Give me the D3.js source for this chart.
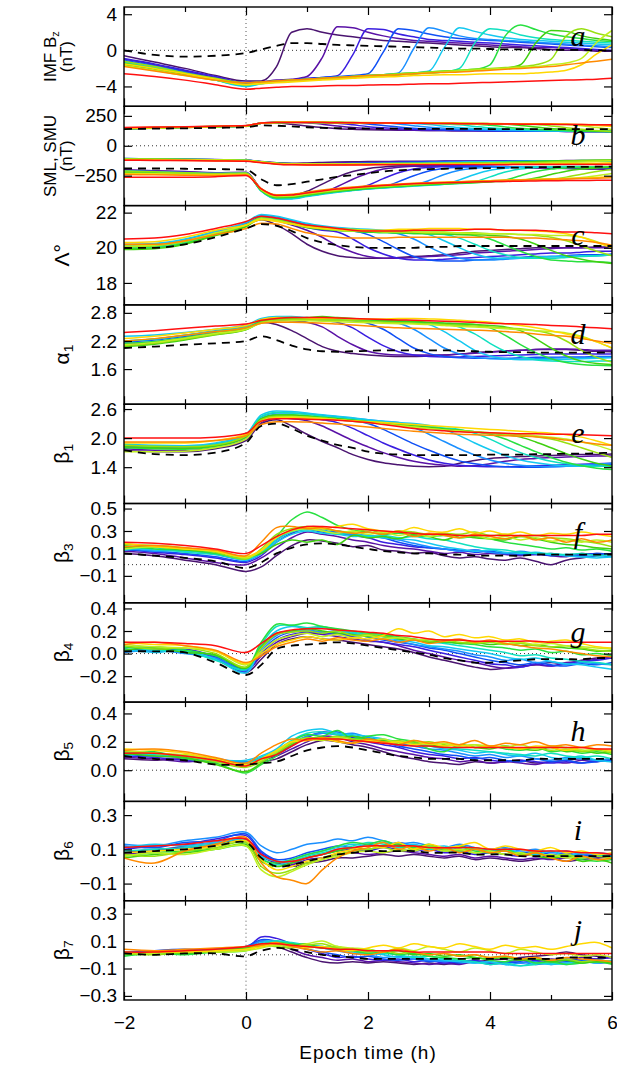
<!DOCTYPE html>
<html>
<head>
<meta charset="utf-8">
<script src="https://cdn.jsdelivr.net/npm/d3@7"></script>
<style>
body { margin: 0; background: #fff; }
text { font-family: "Liberation Sans", Arial, sans-serif; fill: #000; }
</style>
</head>
<body>
<script>
// epoch time grid (h)
var T = [-2,-1.5,-1,-0.5,0,0.25,0.5,0.75,1,1.25,1.5,1.75,2,2.25,2.5,2.75,3,3.25,3.5,3.75,4,4.25,4.5,4.75,5,5.25,5.5,5.75,6];

// one colour per event group (shortest southward interval -> longest)
var colors = ["#4a1470","#5a12a6","#3a1ee0","#1050f5","#1a8fff","#14c8f0","#10e0c0",
              "#28e040","#40d010","#98e010","#c0f020","#ffd800","#ff8a00","#ff1010"];

// ---- a: IMF Bz (nT)
var bzRef = [0.0,-0.5,-0.7,-0.6,-0.3, 0.1,0.5,0.8,0.8, 0.7,0.6,0.55,0.5, 0.45,0.4,0.35,0.3, 0.25,0.2,0.2,0.15, 0.1,0.1,0.1,0.05, 0.05,0.05,0.0,0.0];
var bz = [
  [-0.6,-1.3,-2.0,-2.8,-3.4, -3.4,-1.8,2.0,2.4, 2.0,1.7,1.5,1.3, 1.1,1.0,0.9,0.8, 0.7,0.6,0.5,0.4, 0.3,0.3,0.2,0.1, 0.0,0.0,-0.1,-0.1],
  [-1.0,-1.6,-2.3,-3.0,-3.6, -3.5,-3.3,-3.2,-2.9, -0.8,2.6,2.5,2.0, 1.6,1.3,1.1,1.0, 0.9,0.8,0.7,0.6, 0.5,0.4,0.3,0.3, 0.2,0.1,0.0,-0.1],
  [-0.9,-1.5,-2.2,-2.9,-3.6, -3.5,-3.4,-3.3,-3.1, -3.0,-2.8,-0.5,2.4, 2.3,1.8,1.5,1.2, 1.1,1.0,0.9,0.8, 0.7,0.6,0.5,0.4, 0.3,0.2,0.1,0.0],
  [-1.1,-1.7,-2.4,-3.1,-3.7, -3.6,-3.4,-3.3,-3.2, -3.0,-2.9,-2.8,-2.6, -0.2,2.4,2.2,1.8, 1.5,1.3,1.2,1.1, 1.0,0.9,0.8,0.7, 0.6,0.5,0.4,0.3],
  [-1.2,-1.8,-2.5,-3.2,-3.8, -3.6,-3.5,-3.3,-3.2, -3.1,-3.0,-2.9,-2.8, -2.7,-2.5,0.2,2.5, 2.1,1.6,1.3,1.2, 1.1,1.0,0.9,0.8, 0.7,0.6,0.5,0.4],
  [-1.3,-1.9,-2.6,-3.3,-4.0, -3.7,-3.5,-3.4,-3.3, -3.2,-3.0,-2.9,-2.8, -2.7,-2.6,-2.5,-2.3, 0.3,2.5,2.1,1.7, 1.4,1.2,1.1,1.0, 0.9,0.8,0.7,0.6],
  [-1.5,-2.0,-2.6,-3.3,-3.9, -3.7,-3.5,-3.4,-3.3, -3.2,-3.1,-3.0,-2.9, -2.8,-2.7,-2.6,-2.5, -2.4,-2.0,0.8,2.4, 2.2,1.7,1.4,1.2, 1.1,1.0,0.9,0.8],
  [-1.4,-2.0,-2.6,-3.2,-3.8, -3.6,-3.4,-3.3,-3.2, -3.1,-3.0,-2.9,-2.8, -2.7,-2.6,-2.5,-2.4, -2.3,-2.2,-2.1,-1.6, 1.6,2.8,2.3,1.8, 1.5,1.3,1.1,1.0],
  [-1.6,-2.1,-2.7,-3.3,-3.8, -3.6,-3.5,-3.4,-3.3, -3.2,-3.1,-3.0,-2.9, -2.8,-2.7,-2.6,-2.5, -2.4,-2.3,-2.2,-2.1, -2.0,-1.6,0.8,2.2, 2.1,1.6,1.3,1.1],
  [-1.2,-1.8,-2.5,-3.1,-3.6, -3.5,-3.4,-3.3,-3.2, -3.1,-3.0,-2.9,-2.8, -2.7,-2.6,-2.5,-2.4, -2.3,-2.2,-2.1,-2.0, -1.9,-1.8,-1.6,-1.0, 1.6,2.4,1.9,1.5],
  [-1.7,-2.2,-2.8,-3.3,-3.8, -3.6,-3.5,-3.4,-3.3, -3.2,-3.1,-3.0,-2.9, -2.8,-2.7,-2.6,-2.5, -2.4,-2.3,-2.2,-2.1, -2.0,-1.9,-1.8,-1.6, -1.4,-0.9,0.9,2.2],
  [-1.5,-2.0,-2.6,-3.2,-3.8, -3.7,-3.6,-3.5,-3.4, -3.3,-3.2,-3.1,-3.0, -2.95,-2.9,-2.8,-2.75, -2.7,-2.7,-2.65,-2.6, -2.6,-2.6,-2.5,-2.4, -2.2,-1.6,-0.4,0.6],
  [-1.8,-2.3,-2.8,-3.3,-3.6, -3.5,-3.4,-3.3,-3.2, -3.1,-3.0,-2.9,-2.8, -2.75,-2.7,-2.6,-2.5, -2.45,-2.4,-2.3,-2.2, -2.1,-2.0,-1.9,-1.8, -1.6,-1.4,-1.2,-1.0],
  [-2.6,-2.9,-3.3,-3.8,-4.3, -4.2,-4.1,-4.0,-4.0, -3.95,-3.9,-3.9,-3.85, -3.8,-3.8,-3.75,-3.7, -3.7,-3.65,-3.6,-3.55, -3.5,-3.45,-3.4,-3.35, -3.3,-3.25,-3.2,-3.1]
];

// ---- b: SMU (upper), middle band, SML (lower) (nT)
var smuRef = [140,143,146,150,155, 170,168,162,155, 150,147,145,144, 143,143,142,142, 141,141,141,140, 140,140,140,139, 139,139,139,138];
var smu = [
  [140,147,153,160,166, 188,190,180,165, 152,143,138,134, 132,130,129,128, 127,126,125,125, 124,123,122,121, 121,120,120,119],
  [145,150,155,162,168, 190,196,197,192, 180,165,152,143, 137,133,130,128, 127,126,125,124, 123,122,121,121, 120,120,119,118],
  [142,148,154,160,166, 189,195,197,197, 195,188,175,160, 150,142,136,132, 130,128,126,125, 124,123,122,121, 120,120,119,118],
  [146,151,156,161,167, 190,196,198,197, 196,195,192,183, 170,157,147,140, 135,131,129,127, 125,124,123,122, 121,120,119,118],
  [144,149,155,161,166, 188,194,196,196, 195,194,193,192, 190,182,168,155, 146,140,135,131, 129,127,125,124, 122,121,120,119],
  [143,148,154,160,166, 189,195,197,196, 195,194,193,192, 191,190,187,178, 164,152,144,138, 134,131,128,126, 124,122,121,120],
  [145,150,155,161,167, 190,195,197,196, 195,194,193,192, 191,190,189,188, 185,175,162,150, 142,136,132,128, 125,123,121,120],
  [141,147,153,159,165, 188,194,196,196, 195,194,193,192, 191,190,189,188, 187,186,183,172, 158,146,138,132, 127,123,120,118],
  [144,149,155,160,166, 189,195,197,197, 196,195,194,193, 192,191,190,189, 188,187,186,185, 181,170,156,144, 136,129,124,120],
  [142,148,153,159,165, 188,193,195,195, 194,193,192,191, 190,189,188,187, 186,185,184,183, 182,181,177,166, 151,139,128,120],
  [146,150,155,161,167, 189,194,196,196, 195,194,193,192, 191,190,189,188, 187,186,185,184, 183,182,181,180, 177,168,152,136],
  [148,152,157,162,168, 190,196,198,198, 197,196,195,194, 193,192,191,190, 189,188,187,186, 185,184,183,182, 180,176,170,162],
  [150,154,158,163,168, 191,196,197,197, 196,195,194,193, 192,191,190,189, 188,187,186,185, 184,183,182,181, 180,178,175,170],
  [152,156,160,164,169, 190,194,195,195, 194,193,192,191, 190,189,188,187, 186,185,184,183, 182,181,180,179, 178,177,176,175]
];
var smMid = [
  [-108,-110,-112,-116,-120, -132,-142,-145,-143, -140,-136,-134,-132, -131,-130,-130,-129, -128,-128,-127,-127, -126,-126,-125,-125, -124,-124,-123,-123],
  [-110,-112,-115,-118,-122, -135,-146,-150,-150, -148,-144,-140,-137, -135,-134,-133,-132, -131,-131,-130,-130, -129,-129,-128,-128, -127,-127,-126,-126],
  [-106,-109,-112,-115,-119, -133,-145,-150,-151, -151,-149,-146,-142, -139,-136,-134,-133, -132,-131,-131,-130, -130,-129,-129,-128, -128,-127,-127,-126],
  [-112,-114,-116,-119,-123, -136,-148,-152,-153, -153,-152,-150,-148, -145,-141,-138,-136, -134,-133,-132,-131, -131,-130,-130,-129, -129,-128,-128,-127],
  [-109,-111,-114,-117,-121, -134,-146,-151,-152, -152,-151,-151,-150, -149,-147,-143,-140, -137,-135,-134,-133, -132,-131,-130,-130, -129,-129,-128,-128],
  [-111,-113,-116,-120,-124, -137,-149,-153,-154, -154,-153,-153,-152, -152,-151,-150,-147, -143,-139,-136,-134, -133,-132,-131,-130, -130,-129,-129,-128],
  [-107,-110,-113,-116,-120, -133,-145,-149,-150, -150,-150,-149,-149, -148,-148,-147,-146, -145,-142,-138,-135, -133,-131,-130,-129, -128,-127,-126,-125],
  [-113,-115,-118,-121,-125, -138,-150,-154,-155, -155,-154,-154,-153, -153,-152,-152,-151, -150,-149,-147,-143, -138,-134,-131,-128, -126,-124,-122,-120],
  [-110,-112,-115,-118,-122, -135,-147,-151,-152, -152,-151,-151,-150, -150,-149,-149,-148, -148,-147,-146,-145, -142,-138,-133,-129, -126,-123,-121,-119],
  [-108,-111,-114,-117,-121, -134,-146,-150,-151, -151,-151,-150,-150, -149,-149,-148,-148, -147,-147,-146,-146, -145,-143,-140,-135, -130,-126,-123,-120],
  [-114,-116,-118,-121,-124, -136,-148,-152,-153, -153,-152,-152,-151, -151,-150,-150,-149, -149,-148,-148,-147, -147,-146,-145,-143, -140,-135,-130,-126],
  [-116,-118,-120,-123,-126, -138,-150,-155,-156, -156,-156,-155,-155, -155,-154,-154,-154, -153,-153,-153,-152, -152,-152,-151,-151, -150,-148,-145,-142],
  [-118,-120,-122,-125,-128, -140,-152,-157,-158, -158,-158,-158,-157, -157,-157,-157,-156, -156,-156,-156,-155, -155,-155,-155,-154, -154,-154,-153,-153],
  [-120,-122,-124,-127,-130, -142,-154,-159,-160, -160,-160,-160,-160, -159,-159,-159,-159, -158,-158,-158,-158, -158,-157,-157,-157, -157,-157,-156,-156]
];
var smlRef = [-190,-190,-192,-195,-200, -280,-330,-320,-300, -280,-260,-245,-230, -215,-205,-200,-195, -192,-190,-188,-186, -184,-182,-180,-178, -177,-176,-175,-174];
var sml = [
  [-205,-212,-220,-228,-225, -360,-420,-415,-380, -320,-260,-215,-190, -178,-170,-168,-168, -170,-172,-175,-178, -180,-182,-185,-188, -190,-192,-195,-198],
  [-200,-208,-216,-225,-222, -365,-425,-425,-410, -390,-340,-280,-230, -195,-180,-172,-168, -168,-170,-172,-175, -178,-180,-183,-186, -188,-190,-192,-195],
  [-210,-218,-225,-232,-228, -370,-430,-428,-410, -392,-378,-365,-330, -275,-225,-195,-180, -174,-170,-170,-172, -174,-176,-178,-180, -182,-184,-186,-188],
  [-215,-222,-230,-236,-232, -372,-432,-430,-412, -395,-380,-368,-358, -345,-300,-250,-210, -190,-180,-175,-174, -175,-176,-177,-178, -179,-180,-181,-182],
  [-208,-216,-224,-230,-226, -375,-440,-440,-420, -400,-385,-372,-360, -350,-342,-330,-290, -240,-205,-188,-180, -176,-175,-176,-177, -178,-179,-180,-180],
  [-220,-226,-232,-238,-234, -380,-445,-445,-425, -405,-388,-374,-362, -352,-344,-337,-330, -322,-285,-240,-205, -188,-180,-176,-175, -176,-177,-178,-178],
  [-212,-220,-228,-234,-230, -378,-440,-438,-420, -400,-385,-372,-360, -350,-342,-335,-328, -322,-316,-300,-260, -220,-195,-182,-176, -174,-174,-175,-176],
  [-218,-224,-230,-236,-232, -375,-436,-432,-415, -398,-382,-370,-358, -348,-340,-333,-326, -320,-314,-309,-300, -285,-250,-215,-195, -185,-180,-178,-176],
  [-225,-230,-236,-240,-236, -372,-430,-428,-410, -392,-378,-366,-355, -345,-337,-330,-323, -317,-311,-306,-301, -297,-290,-270,-240, -212,-195,-185,-180],
  [-210,-218,-226,-232,-228, -368,-425,-422,-405, -388,-373,-360,-349, -340,-332,-325,-318, -312,-306,-301,-296, -292,-288,-284,-278, -262,-238,-215,-198],
  [-230,-234,-238,-242,-238, -365,-420,-418,-400, -383,-368,-355,-345, -336,-328,-321,-314, -308,-302,-297,-292, -288,-284,-280,-276, -272,-265,-250,-232],
  [-235,-238,-242,-245,-240, -360,-415,-410,-392, -375,-360,-348,-338, -330,-322,-315,-310, -305,-300,-296,-292, -288,-284,-281,-278, -275,-270,-265,-258],
  [-240,-243,-246,-248,-243, -358,-410,-405,-388, -370,-356,-345,-335, -327,-320,-314,-309, -304,-300,-296,-292, -289,-286,-283,-280, -277,-274,-271,-268],
  [-262,-263,-262,-258,-248, -360,-415,-412,-395, -378,-362,-350,-340, -332,-325,-318,-313, -309,-306,-303,-300, -298,-296,-294,-292, -291,-290,-289,-288]
];

// ---- c: Lambda (deg)
var lamRef = [20.0,20.0,20.2,20.6,21.1, 21.35,21.25,20.95,20.55, 20.3,20.15,20.05,20.0, 20.0,20.0,20.0,20.05, 20.05,20.1,20.1,20.1, 20.1,20.1,20.1,20.1, 20.1,20.1,20.1,20.1];
var lam = [
  [20.0,20.05,20.3,20.8,21.3, 21.6,21.3,20.8,20.2, 19.8,19.55,19.45,19.4, 19.4,19.45,19.5,19.55, 19.6,19.7,19.8,19.85, 19.9,19.95,20.0,20.0, 20.0,20.0,20.05,20.05],
  [20.1,20.1,20.3,20.8,21.3, 21.7,21.55,21.3,21.0, 20.6,20.1,19.75,19.5, 19.4,19.4,19.45,19.5, 19.55,19.6,19.7,19.75, 19.8,19.85,19.9,19.95, 20.0,20.0,20.0,20.0],
  [20.0,20.05,20.3,20.8,21.3, 21.7,21.6,21.35,21.15, 21.0,20.9,20.5,20.0, 19.65,19.4,19.3,19.3, 19.35,19.4,19.45,19.5, 19.55,19.6,19.65,19.7, 19.7,19.75,19.8,19.8],
  [20.05,20.1,20.35,20.85,21.35, 21.75,21.65,21.45,21.25, 21.1,21.0,20.95,20.75, 20.35,19.9,19.5,19.3, 19.25,19.25,19.3,19.35, 19.4,19.45,19.5,19.5, 19.55,19.6,19.6,19.65],
  [20.15,20.2,20.45,20.9,21.4, 21.85,21.75,21.55,21.35, 21.2,21.1,21.0,20.95, 20.9,20.8,20.5,20.05, 19.65,19.4,19.3,19.3, 19.35,19.4,19.45,19.5, 19.5,19.55,19.55,19.6],
  [20.2,20.25,20.5,20.95,21.45, 21.9,21.8,21.6,21.4, 21.25,21.15,21.1,21.05, 21.0,20.95,20.9,20.75, 20.4,20.0,19.65,19.45, 19.4,19.4,19.45,19.5, 19.5,19.55,19.55,19.6],
  [20.0,20.05,20.3,20.8,21.3, 21.7,21.6,21.4,21.2, 21.1,21.0,20.95,20.9, 20.9,20.85,20.85,20.8, 20.75,20.55,20.2,19.85, 19.6,19.45,19.4,19.4, 19.45,19.5,19.55,19.6],
  [19.95,20.0,20.25,20.75,21.25, 21.7,21.6,21.4,21.2, 21.1,21.0,20.95,20.9, 20.85,20.85,20.8,20.8, 20.8,20.75,20.7,20.5, 20.15,19.8,19.5,19.3, 19.25,19.2,19.2,19.15],
  [19.9,19.95,20.2,20.7,21.2, 21.65,21.55,21.35,21.15, 21.05,21.0,20.95,20.9, 20.9,20.85,20.85,20.8, 20.8,20.75,20.75,20.7, 20.65,20.5,20.2,19.85, 19.55,19.35,19.2,19.1],
  [20.05,20.1,20.35,20.8,21.3, 21.7,21.6,21.4,21.25, 21.15,21.1,21.05,21.0, 20.95,20.95,20.9,20.9, 20.9,20.85,20.85,20.8, 20.8,20.75,20.7,20.6, 20.4,20.1,19.8,19.55],
  [20.1,20.15,20.4,20.85,21.3, 21.65,21.55,21.35,21.2, 21.1,21.0,20.95,20.95, 20.9,20.9,20.9,20.85, 20.85,20.85,20.8,20.8, 20.8,20.75,20.75,20.7, 20.7,20.6,20.35,20.0],
  [20.3,20.35,20.6,21.0,21.3, 21.6,21.5,21.35,21.2, 21.1,21.05,21.0,21.0, 21.0,21.05,21.05,21.1, 21.1,21.1,21.05,21.05, 21.0,21.0,20.95,20.9, 20.8,20.6,20.3,20.0],
  [20.2,20.2,20.4,20.75,21.1, 21.4,21.35,21.1,20.85, 20.7,20.6,20.55,20.55, 20.55,20.6,20.6,20.6, 20.6,20.6,20.6,20.6, 20.6,20.55,20.55,20.5, 20.45,20.4,20.3,20.15],
  [20.5,20.55,20.75,21.1,21.5, 21.8,21.7,21.5,21.3, 21.2,21.1,21.0,20.95, 20.95,20.95,21.0,21.0, 21.0,21.0,21.05,21.05, 21.0,21.0,21.0,20.95, 20.9,20.9,20.85,20.8]
];

// ---- d: alpha1
var a1Ref = [2.05,2.08,2.12,2.15,2.2, 2.3,2.22,2.1,2.02, 1.98,1.97,1.98,1.99, 2.0,2.0,2.0,2.0, 2.0,1.99,1.98,1.97, 1.96,1.96,1.95,1.95, 1.95,1.95,1.95,1.95];
var a1 = [
  [2.1,2.15,2.25,2.35,2.45, 2.6,2.55,2.42,2.25, 2.08,1.98,1.93,1.9, 1.88,1.87,1.87,1.88, 1.9,1.92,1.95,1.97, 1.99,2.0,2.02,2.02, 2.02,2.0,1.98,1.97],
  [2.15,2.18,2.27,2.37,2.47, 2.62,2.65,2.63,2.6, 2.5,2.3,2.12,1.98, 1.92,1.9,1.9,1.9, 1.9,1.92,1.94,1.96, 1.98,2.0,2.02,2.03, 2.03,2.02,2.0,2.0],
  [2.12,2.16,2.25,2.36,2.46, 2.63,2.67,2.67,2.66, 2.64,2.6,2.48,2.28, 2.1,1.97,1.9,1.87, 1.86,1.86,1.87,1.88, 1.89,1.9,1.91,1.92, 1.92,1.92,1.92,1.92],
  [2.18,2.22,2.3,2.4,2.5, 2.66,2.7,2.7,2.68, 2.66,2.65,2.63,2.58, 2.45,2.25,2.05,1.93, 1.87,1.84,1.83,1.83, 1.83,1.84,1.85,1.85, 1.86,1.86,1.87,1.87],
  [2.2,2.24,2.32,2.42,2.52, 2.66,2.7,2.7,2.69, 2.67,2.66,2.65,2.64, 2.62,2.58,2.45,2.25, 2.05,1.92,1.85,1.82, 1.81,1.81,1.82,1.83, 1.84,1.84,1.85,1.85],
  [2.3,2.33,2.38,2.45,2.54, 2.68,2.72,2.72,2.7, 2.68,2.67,2.66,2.65, 2.64,2.63,2.61,2.55, 2.4,2.2,2.0,1.88, 1.82,1.8,1.8,1.8, 1.81,1.82,1.83,1.84],
  [2.2,2.24,2.32,2.41,2.5, 2.64,2.68,2.68,2.67, 2.66,2.65,2.64,2.63, 2.62,2.61,2.6,2.59, 2.57,2.5,2.35,2.15, 1.98,1.87,1.8,1.77, 1.76,1.76,1.77,1.78],
  [2.15,2.19,2.27,2.37,2.47, 2.62,2.67,2.68,2.67, 2.66,2.65,2.64,2.63, 2.62,2.61,2.6,2.59, 2.58,2.57,2.55,2.48, 2.32,2.12,1.95,1.82, 1.74,1.7,1.68,1.67],
  [2.08,2.13,2.22,2.33,2.44, 2.6,2.66,2.68,2.7, 2.72,2.7,2.68,2.66, 2.64,2.63,2.62,2.6, 2.58,2.56,2.55,2.53, 2.5,2.42,2.25,2.05, 1.88,1.77,1.72,1.7],
  [2.1,2.15,2.24,2.34,2.45, 2.6,2.65,2.66,2.66, 2.65,2.64,2.63,2.62, 2.6,2.59,2.58,2.56, 2.55,2.53,2.52,2.5, 2.48,2.46,2.42,2.35, 2.2,2.0,1.85,1.75],
  [2.12,2.17,2.26,2.36,2.45, 2.58,2.62,2.63,2.63, 2.62,2.61,2.6,2.59, 2.58,2.57,2.56,2.55, 2.53,2.51,2.5,2.48, 2.46,2.44,2.42,2.4, 2.37,2.3,2.18,2.05],
  [2.25,2.3,2.37,2.45,2.53, 2.66,2.7,2.7,2.69, 2.68,2.68,2.67,2.67, 2.67,2.68,2.68,2.67, 2.66,2.64,2.62,2.6, 2.57,2.53,2.48,2.42, 2.35,2.28,2.18,2.05],
  [2.2,2.25,2.32,2.4,2.48, 2.58,2.6,2.6,2.59, 2.58,2.56,2.54,2.52, 2.5,2.48,2.47,2.46, 2.45,2.44,2.43,2.42, 2.4,2.38,2.35,2.32, 2.3,2.25,2.2,2.15],
  [2.38,2.42,2.47,2.52,2.56, 2.64,2.68,2.7,2.7, 2.7,2.69,2.68,2.67, 2.66,2.65,2.64,2.63, 2.62,2.61,2.6,2.58, 2.57,2.56,2.55,2.53, 2.52,2.5,2.48,2.46]
];

// ---- e: beta1
var b1Ref = [1.75,1.67,1.65,1.7,1.9, 2.25,2.3,2.2,2.05, 1.95,1.86,1.8,1.72, 1.68,1.66,1.65,1.65, 1.65,1.65,1.65,1.66, 1.66,1.66,1.67,1.67, 1.68,1.68,1.69,1.7];
var b1 = [
  [1.75,1.72,1.72,1.78,1.95, 2.3,2.38,2.25,2.08, 1.93,1.8,1.66,1.56, 1.49,1.45,1.42,1.41, 1.42,1.48,1.54,1.58, 1.6,1.62,1.63,1.64, 1.65,1.66,1.66,1.67],
  [1.78,1.75,1.74,1.8,1.98, 2.32,2.42,2.4,2.36, 2.25,2.1,1.95,1.82, 1.7,1.6,1.52,1.47, 1.44,1.42,1.43,1.47, 1.52,1.56,1.58,1.6, 1.61,1.62,1.63,1.63],
  [1.82,1.8,1.79,1.84,2.02, 2.38,2.46,2.45,2.42, 2.38,2.32,2.2,2.05, 1.9,1.77,1.65,1.55, 1.48,1.44,1.42,1.41, 1.41,1.42,1.43,1.44, 1.45,1.46,1.47,1.48],
  [1.84,1.82,1.8,1.86,2.04, 2.4,2.48,2.47,2.45, 2.42,2.4,2.37,2.3, 2.18,2.03,1.88,1.75, 1.63,1.53,1.47,1.43, 1.41,1.4,1.4,1.41, 1.42,1.43,1.44,1.45],
  [1.86,1.84,1.83,1.88,2.06, 2.44,2.52,2.52,2.5, 2.47,2.44,2.41,2.38, 2.35,2.32,2.22,2.08, 1.93,1.78,1.65,1.55, 1.48,1.44,1.42,1.41, 1.42,1.44,1.46,1.48],
  [1.88,1.85,1.84,1.9,2.08, 2.48,2.56,2.55,2.52, 2.48,2.45,2.42,2.38, 2.35,2.32,2.3,2.26, 2.18,2.05,1.9,1.76, 1.64,1.55,1.49,1.45, 1.43,1.42,1.42,1.43],
  [1.86,1.83,1.82,1.87,2.05, 2.45,2.53,2.52,2.49, 2.45,2.42,2.39,2.36, 2.33,2.3,2.27,2.24, 2.21,2.18,2.1,1.98, 1.83,1.7,1.6,1.52, 1.47,1.44,1.42,1.42],
  [1.8,1.78,1.77,1.83,2.02, 2.4,2.48,2.48,2.46, 2.43,2.4,2.37,2.34, 2.31,2.28,2.25,2.22, 2.19,2.16,2.13,2.08, 1.98,1.85,1.72,1.6, 1.5,1.43,1.38,1.35],
  [1.82,1.8,1.79,1.84,2.03, 2.4,2.47,2.47,2.45, 2.42,2.4,2.37,2.34, 2.31,2.28,2.25,2.22, 2.19,2.16,2.13,2.1, 2.07,2.02,1.92,1.8, 1.68,1.57,1.48,1.42],
  [1.85,1.83,1.82,1.86,2.04, 2.38,2.45,2.45,2.43, 2.41,2.38,2.35,2.32, 2.29,2.26,2.23,2.2, 2.17,2.14,2.12,2.1, 2.08,2.06,2.03,1.98, 1.9,1.8,1.7,1.6],
  [1.72,1.72,1.73,1.8,1.98, 2.35,2.43,2.44,2.43, 2.41,2.38,2.35,2.32, 2.29,2.26,2.23,2.2, 2.17,2.15,2.13,2.11, 2.09,2.07,2.05,2.02, 1.98,1.92,1.85,1.75],
  [1.9,1.9,1.9,1.95,2.08, 2.35,2.42,2.42,2.41, 2.4,2.38,2.36,2.34, 2.32,2.3,2.28,2.26, 2.24,2.22,2.2,2.18, 2.16,2.14,2.12,2.1, 2.07,2.02,1.94,1.85],
  [1.92,1.92,1.92,1.95,2.05, 2.28,2.34,2.34,2.33, 2.31,2.29,2.26,2.23, 2.2,2.17,2.14,2.12, 2.1,2.08,2.07,2.06, 2.05,2.04,2.03,2.0, 1.96,1.92,1.88,1.85],
  [2.0,2.0,2.0,2.02,2.1, 2.35,2.4,2.4,2.39, 2.38,2.37,2.35,2.32, 2.28,2.24,2.2,2.17, 2.15,2.13,2.12,2.11, 2.1,2.09,2.09,2.08, 2.08,2.07,2.06,2.05]
];

// ---- f: beta3
var b3Ref = [0.1,0.08,0.06,0.03,-0.03, 0.02,0.1,0.15,0.18, 0.19,0.18,0.16,0.14, 0.12,0.11,0.1,0.1, 0.09,0.09,0.08,0.08, 0.08,0.08,0.09,0.09, 0.09,0.09,0.09,0.09];
var b3 = [
  [0.1,0.08,0.04,0.0,-0.06, -0.02,0.08,0.17,0.22, 0.21,0.19,0.16,0.17, 0.13,0.12,0.1,0.11, 0.08,0.06,0.07,0.05, 0.04,0.06,0.03,0.0, 0.04,0.06,0.08,0.1],
  [0.12,0.1,0.06,0.02,0.0, 0.06,0.15,0.24,0.29, 0.27,0.25,0.22,0.2, 0.17,0.15,0.14,0.12, 0.1,0.11,0.09,0.1, 0.09,0.08,0.09,0.08, 0.07,0.1,0.09,0.1],
  [0.14,0.11,0.09,0.06,0.02, 0.08,0.2,0.28,0.32, 0.3,0.28,0.26,0.24, 0.2,0.18,0.16,0.15, 0.14,0.12,0.13,0.11, 0.1,0.11,0.09,0.1, 0.08,0.09,0.1,0.09],
  [0.13,0.12,0.1,0.07,0.03, 0.1,0.22,0.3,0.32, 0.29,0.3,0.27,0.26, 0.24,0.2,0.17,0.15, 0.14,0.13,0.11,0.12, 0.1,0.09,0.1,0.08, 0.09,0.08,0.1,0.09],
  [0.15,0.12,0.13,0.09,0.05, 0.12,0.24,0.3,0.33, 0.31,0.28,0.27,0.25, 0.24,0.22,0.19,0.16, 0.14,0.12,0.13,0.11, 0.1,0.12,0.1,0.09, 0.08,0.07,0.08,0.07],
  [0.16,0.13,0.12,0.1,0.04, 0.1,0.2,0.27,0.3, 0.28,0.27,0.25,0.26, 0.24,0.23,0.22,0.19, 0.16,0.14,0.12,0.13, 0.11,0.1,0.11,0.09, 0.08,0.07,0.06,0.07],
  [0.13,0.15,0.11,0.09,0.05, 0.11,0.22,0.29,0.31, 0.3,0.27,0.28,0.25, 0.26,0.24,0.25,0.23, 0.22,0.19,0.16,0.14, 0.13,0.11,0.1,0.1, 0.09,0.1,0.08,0.09],
  [0.17,0.14,0.13,0.1,0.06, 0.12,0.25,0.4,0.47, 0.42,0.35,0.31,0.29, 0.27,0.28,0.26,0.25, 0.26,0.24,0.25,0.23, 0.2,0.18,0.16,0.14, 0.15,0.13,0.14,0.12],
  [0.15,0.16,0.13,0.12,0.07, 0.1,0.18,0.22,0.2, 0.22,0.18,0.26,0.24, 0.25,0.23,0.27,0.25, 0.22,0.26,0.24,0.23, 0.22,0.25,0.23,0.2, 0.18,0.17,0.15,0.14],
  [0.18,0.17,0.15,0.11,0.05, 0.14,0.27,0.32,0.34, 0.32,0.3,0.29,0.31, 0.28,0.3,0.29,0.27, 0.28,0.27,0.29,0.26, 0.27,0.25,0.26,0.24, 0.23,0.21,0.19,0.16],
  [0.14,0.16,0.14,0.12,0.06, 0.12,0.24,0.3,0.32, 0.3,0.28,0.3,0.27, 0.29,0.26,0.28,0.25, 0.27,0.24,0.26,0.23, 0.25,0.22,0.24,0.21, 0.22,0.2,0.22,0.2],
  [0.19,0.16,0.14,0.12,0.07, 0.13,0.24,0.31,0.33, 0.32,0.34,0.36,0.32, 0.3,0.29,0.33,0.3, 0.29,0.32,0.28,0.3, 0.27,0.29,0.26,0.28, 0.27,0.29,0.27,0.25],
  [0.16,0.17,0.15,0.13,0.08, 0.2,0.33,0.34,0.32, 0.33,0.3,0.28,0.29, 0.27,0.3,0.25,0.28, 0.26,0.24,0.27,0.25, 0.23,0.26,0.22,0.24, 0.2,0.23,0.2,0.22],
  [0.2,0.19,0.17,0.14,0.1, 0.17,0.25,0.31,0.34, 0.34,0.33,0.32,0.31, 0.3,0.29,0.28,0.27, 0.27,0.26,0.26,0.26, 0.26,0.26,0.26,0.26, 0.26,0.26,0.27,0.27]
];

// ---- g: beta4
var b4Ref = [0.02,0.02,0.01,-0.08,-0.19, -0.1,0.04,0.07,0.08, 0.09,0.1,0.09,0.07, 0.05,0.03,0.01,-0.01, -0.04,-0.06,-0.08,-0.08, -0.07,-0.06,-0.05,-0.05, -0.05,-0.05,-0.04,-0.04];
var b4 = [
  [0.02,0.04,0.01,-0.05,-0.17, -0.05,0.08,0.13,0.15, 0.13,0.12,0.1,0.08, 0.06,0.04,0.01,-0.03, -0.06,-0.09,-0.12,-0.14, -0.13,-0.11,-0.1,-0.08, -0.09,-0.06,-0.04,-0.02],
  [0.03,0.02,0.03,-0.04,-0.15, -0.02,0.1,0.15,0.18, 0.17,0.15,0.13,0.11, 0.1,0.07,0.03,0.0, -0.03,-0.06,-0.08,-0.11, -0.13,-0.12,-0.1,-0.11, -0.08,-0.07,-0.05,-0.03],
  [0.04,0.02,0.04,-0.03,-0.16, 0.0,0.12,0.17,0.19, 0.18,0.17,0.15,0.12, 0.1,0.08,0.06,0.03, 0.0,-0.03,-0.06,-0.09, -0.1,-0.12,-0.09,-0.11, -0.09,-0.07,-0.06,-0.04],
  [0.02,0.05,0.02,-0.02,-0.14, 0.02,0.14,0.19,0.2, 0.19,0.18,0.16,0.15, 0.12,0.1,0.08,0.05, 0.03,0.0,-0.03,-0.06, -0.08,-0.1,-0.08,-0.1, -0.11,-0.09,-0.1,-0.08],
  [0.01,0.03,0.0,-0.04,-0.15, 0.04,0.16,0.2,0.21, 0.19,0.2,0.17,0.15, 0.13,0.11,0.08,0.06, 0.04,0.02,-0.01,-0.03, -0.06,-0.05,-0.08,-0.07, -0.1,-0.08,-0.09,-0.1],
  [0.04,0.01,0.03,-0.05,-0.17, 0.06,0.2,0.24,0.22, 0.23,0.2,0.18,0.16, 0.15,0.12,0.1,0.07, 0.06,0.04,0.02,0.0, -0.03,-0.05,-0.04,-0.07, -0.09,-0.1,-0.12,-0.14],
  [0.06,0.03,0.02,-0.06,-0.14, 0.08,0.24,0.25,0.23, 0.24,0.21,0.19,0.17, 0.16,0.14,0.12,0.1, 0.09,0.07,0.05,0.03, 0.01,-0.02,-0.01,-0.04, -0.05,-0.07,-0.08,-0.1],
  [0.05,0.06,0.03,-0.02,-0.12, 0.1,0.26,0.25,0.27, 0.24,0.22,0.2,0.18, 0.17,0.15,0.13,0.11, 0.1,0.09,0.08,0.06, 0.05,0.03,0.04,0.01, 0.02,-0.01,0.0,-0.02],
  [0.03,0.05,0.01,-0.01,-0.13, 0.06,0.18,0.2,0.22, 0.2,0.18,0.17,0.15, 0.16,0.13,0.12,0.1, 0.11,0.09,0.1,0.08, 0.09,0.07,0.08,0.06, 0.05,0.04,0.02,0.03],
  [0.07,0.04,0.05,0.0,-0.12, 0.05,0.17,0.19,0.2, 0.18,0.2,0.16,0.17, 0.15,0.14,0.13,0.11, 0.12,0.1,0.09,0.1, 0.08,0.09,0.07,0.06, 0.07,0.05,0.03,0.02],
  [0.08,0.06,0.05,0.02,-0.1, 0.02,0.12,0.16,0.18, 0.15,0.17,0.14,0.16, 0.13,0.14,0.12,0.13, 0.11,0.12,0.1,0.11, 0.09,0.1,0.08,0.09, 0.07,0.06,0.05,0.04],
  [0.1,0.08,0.07,0.02,-0.09, 0.0,0.08,0.12,0.15, 0.13,0.12,0.14,0.13, 0.16,0.22,0.18,0.2, 0.15,0.17,0.14,0.15, 0.12,0.13,0.1,0.11, 0.12,0.09,0.06,0.05],
  [0.08,0.1,0.07,0.03,-0.08, -0.02,0.06,0.1,0.13, 0.11,0.14,0.12,0.11, 0.13,0.1,0.12,0.09, 0.11,0.13,0.1,0.12, 0.09,0.07,0.05,0.04, 0.02,0.0,-0.02,-0.03],
  [0.1,0.1,0.09,0.07,0.01, 0.09,0.18,0.21,0.22, 0.22,0.21,0.2,0.19, 0.18,0.16,0.15,0.13, 0.12,0.12,0.11,0.11, 0.11,0.11,0.11,0.1, 0.1,0.1,0.1,0.1]
];

// ---- h: beta5
var b5Ref = [0.1,0.08,0.07,0.04,0.04, 0.05,0.06,0.1,0.14, 0.16,0.17,0.16,0.14, 0.12,0.1,0.09,0.08, 0.08,0.08,0.07,0.07, 0.07,0.07,0.08,0.08, 0.08,0.08,0.08,0.08];
var b5 = [
  [0.08,0.07,0.08,0.06,0.05, 0.06,0.08,0.13,0.18, 0.21,0.2,0.18,0.16, 0.13,0.1,0.08,0.06, 0.05,0.04,0.06,0.05, 0.06,0.07,0.05,0.06, 0.07,0.08,0.07,0.08],
  [0.09,0.08,0.06,0.07,0.05, 0.07,0.1,0.15,0.2, 0.24,0.23,0.2,0.18, 0.15,0.13,0.11,0.09, 0.08,0.06,0.07,0.05, 0.06,0.05,0.04,0.06, 0.05,0.07,0.06,0.08],
  [0.1,0.09,0.07,0.06,0.04, 0.08,0.12,0.18,0.23, 0.27,0.25,0.23,0.2, 0.18,0.16,0.13,0.11, 0.1,0.08,0.09,0.07, 0.06,0.07,0.06,0.05, 0.06,0.05,0.07,0.06],
  [0.11,0.1,0.09,0.07,0.05, 0.08,0.11,0.17,0.24, 0.26,0.27,0.24,0.22, 0.2,0.17,0.15,0.13, 0.11,0.1,0.08,0.09, 0.07,0.06,0.08,0.06, 0.07,0.05,0.06,0.07],
  [0.12,0.11,0.1,0.08,0.06, 0.09,0.13,0.19,0.24, 0.26,0.25,0.26,0.23, 0.21,0.19,0.17,0.15, 0.14,0.12,0.1,0.11, 0.09,0.1,0.08,0.07, 0.09,0.08,0.07,0.08],
  [0.1,0.12,0.09,0.07,0.07, 0.1,0.15,0.24,0.28, 0.29,0.26,0.25,0.24, 0.22,0.2,0.18,0.17, 0.15,0.14,0.12,0.13, 0.11,0.1,0.12,0.09, 0.08,0.1,0.07,0.06],
  [0.13,0.11,0.1,0.06,0.05, 0.09,0.14,0.21,0.26, 0.27,0.25,0.24,0.22, 0.21,0.2,0.19,0.17, 0.16,0.15,0.14,0.13, 0.12,0.11,0.1,0.12, 0.1,0.09,0.1,0.08],
  [0.11,0.13,0.08,0.05,-0.02, 0.04,0.1,0.2,0.25, 0.24,0.28,0.22,0.24, 0.25,0.22,0.2,0.15, 0.13,0.18,0.16,0.17, 0.15,0.14,0.16,0.13, 0.14,0.12,0.13,0.11],
  [0.12,0.1,0.09,0.04,-0.01, 0.05,0.12,0.18,0.22, 0.23,0.22,0.24,0.22, 0.21,0.19,0.2,0.18, 0.17,0.18,0.16,0.15, 0.17,0.15,0.14,0.16, 0.13,0.14,0.12,0.13],
  [0.13,0.12,0.1,0.06,0.02, 0.06,0.12,0.19,0.23, 0.22,0.24,0.22,0.21, 0.2,0.21,0.19,0.2, 0.18,0.17,0.18,0.16, 0.17,0.15,0.16,0.14, 0.15,0.13,0.14,0.12],
  [0.14,0.12,0.11,0.07,0.03, 0.07,0.13,0.2,0.22, 0.21,0.23,0.21,0.2, 0.22,0.19,0.21,0.18, 0.19,0.17,0.18,0.17, 0.16,0.18,0.15,0.17, 0.16,0.14,0.15,0.13],
  [0.15,0.14,0.12,0.08,0.04, 0.08,0.14,0.2,0.21, 0.22,0.2,0.19,0.21, 0.19,0.2,0.18,0.19, 0.17,0.18,0.16,0.17, 0.16,0.15,0.17,0.16, 0.14,0.16,0.15,0.14],
  [0.14,0.15,0.13,0.09,0.05, 0.12,0.18,0.22,0.21, 0.23,0.21,0.19,0.22, 0.2,0.18,0.21,0.19, 0.2,0.18,0.21,0.17, 0.19,0.18,0.2,0.17, 0.18,0.16,0.18,0.17],
  [0.12,0.12,0.1,0.07,0.03, 0.08,0.11,0.17,0.22, 0.22,0.22,0.21,0.2, 0.19,0.18,0.17,0.17, 0.16,0.16,0.16,0.16, 0.16,0.16,0.16,0.16, 0.16,0.16,0.15,0.15]
];

// ---- i: beta6
var b6Ref = [0.08,0.09,0.1,0.12,0.14, 0.05,0.0,0.01,0.03, 0.05,0.07,0.08,0.09, 0.09,0.09,0.09,0.08, 0.08,0.08,0.07,0.07, 0.07,0.06,0.06,0.06, 0.06,0.06,0.06,0.06];
var b6 = [
  [0.08,0.1,0.11,0.13,0.15, 0.06,0.02,0.0,0.02, 0.03,0.05,0.05,0.06, 0.07,0.06,0.07,0.06, 0.05,0.06,0.04,0.05, 0.04,0.03,0.04,0.05, 0.03,0.04,0.05,0.06],
  [0.07,0.09,0.12,0.14,0.16, 0.07,0.02,0.01,0.04, 0.05,0.07,0.08,0.07, 0.08,0.09,0.08,0.07, 0.06,0.07,0.05,0.06, 0.05,0.04,0.05,0.04, 0.05,0.06,0.05,0.06],
  [0.1,0.12,0.13,0.16,0.18, 0.08,0.03,0.02,0.05, 0.07,0.09,0.1,0.09, 0.11,0.1,0.09,0.1, 0.08,0.09,0.07,0.08, 0.07,0.06,0.07,0.05, 0.06,0.07,0.06,0.07],
  [0.12,0.11,0.14,0.15,0.19, 0.09,0.04,0.05,0.08, 0.1,0.12,0.11,0.13, 0.12,0.14,0.12,0.11, 0.1,0.12,0.1,0.09, 0.1,0.08,0.09,0.07, 0.08,0.06,0.07,0.06],
  [0.13,0.12,0.15,0.17,0.2, 0.12,0.08,0.1,0.13, 0.14,0.16,0.15,0.17, 0.15,0.13,0.14,0.12, 0.11,0.13,0.11,0.1, 0.11,0.09,0.1,0.08, 0.09,0.07,0.08,0.07],
  [0.11,0.13,0.12,0.14,0.15, 0.06,0.03,0.04,0.07, 0.09,0.11,0.13,0.12, 0.14,0.12,0.13,0.11, 0.12,0.1,0.11,0.09, 0.1,0.08,0.07,0.09, 0.06,0.08,0.07,0.06],
  [0.09,0.1,0.11,0.13,0.14, 0.05,0.01,0.03,0.06, 0.08,0.1,0.12,0.14, 0.13,0.11,0.12,0.1, 0.11,0.09,0.1,0.08, 0.09,0.07,0.08,0.06, 0.07,0.05,0.06,0.07],
  [0.06,0.08,0.09,0.1,0.12, 0.04,0.02,0.04,0.07, 0.09,0.12,0.14,0.13, 0.15,0.12,0.11,0.13, 0.1,0.12,0.09,0.08, 0.1,0.07,0.08,0.05, 0.06,0.04,0.03,0.04],
  [0.05,0.07,0.08,0.1,0.13, 0.03,0.0,0.02,0.05, 0.07,0.09,0.11,0.1, 0.12,0.13,0.1,0.11, 0.09,0.1,0.08,0.09, 0.07,0.08,0.06,0.05, 0.06,0.03,0.04,0.02],
  [0.07,0.06,0.09,0.11,0.14, 0.0,-0.04,-0.02,0.02, 0.04,0.07,0.09,0.1, 0.11,0.09,0.1,0.12, 0.1,0.09,0.11,0.08, 0.09,0.07,0.08,0.06, 0.07,0.05,0.06,0.05],
  [0.06,0.08,0.07,0.1,0.12, -0.02,-0.06,-0.03,0.01, 0.04,0.06,0.08,0.09, 0.08,0.1,0.09,0.11, 0.09,0.1,0.08,0.09, 0.07,0.08,0.06,0.07, 0.05,0.06,0.04,0.05],
  [0.08,0.09,0.1,0.12,0.15, 0.04,-0.02,0.0,0.03, 0.05,0.08,0.1,0.12, 0.11,0.14,0.1,0.13, 0.11,0.12,0.14,0.1, 0.12,0.1,0.09,0.11, 0.08,0.09,0.07,0.08],
  [0.05,0.02,0.09,0.13,0.17, 0.02,-0.06,-0.08,-0.1, -0.02,0.05,0.09,0.11, 0.14,0.1,0.12,0.09, 0.11,0.08,0.1,0.08, 0.09,0.06,0.08,0.05, 0.03,0.06,0.04,0.05],
  [0.11,0.12,0.13,0.15,0.16, 0.07,0.03,0.03,0.05, 0.07,0.1,0.11,0.12, 0.12,0.12,0.12,0.11, 0.11,0.11,0.11,0.1, 0.1,0.1,0.09,0.09, 0.09,0.08,0.08,0.07]
];

// ---- j: beta7
var b7Ref = [0.01,0.0,0.01,0.01,-0.01, 0.03,0.05,0.04,0.02, 0.0,-0.01,-0.02,-0.03, -0.03,-0.03,-0.03,-0.03, -0.03,-0.03,-0.03,-0.03, -0.03,-0.03,-0.03,-0.03, -0.02,-0.02,-0.02,-0.02];
var b7 = [
  [0.01,0.02,0.01,0.03,0.04, 0.08,0.06,0.02,-0.02, -0.05,-0.06,-0.05,-0.06, -0.05,-0.06,-0.07,-0.06, -0.07,-0.06,-0.05,-0.04, -0.03,-0.02,-0.01,0.0, 0.02,0.0,-0.01,-0.02],
  [0.02,0.01,0.03,0.02,0.05, 0.1,0.08,0.04,0.0, -0.02,-0.04,-0.03,-0.05, -0.04,-0.05,-0.06,-0.07, -0.06,-0.07,-0.05,-0.06, -0.05,-0.04,-0.05,-0.03, -0.04,-0.02,-0.03,-0.02],
  [0.02,0.03,0.02,0.04,0.05, 0.13,0.12,0.08,0.04, 0.01,-0.02,-0.01,-0.03, -0.04,-0.03,-0.05,-0.04, -0.06,-0.05,-0.04,-0.06, -0.05,-0.06,-0.04,-0.05, -0.03,-0.04,-0.03,-0.02],
  [0.01,0.03,0.04,0.03,0.06, 0.11,0.1,0.07,0.04, 0.02,0.0,-0.02,-0.01, -0.03,-0.04,-0.03,-0.05, -0.04,-0.06,-0.05,-0.07, -0.06,-0.05,-0.07,-0.06, -0.05,-0.04,-0.06,-0.05],
  [0.0,0.02,0.03,0.04,0.05, 0.1,0.09,0.08,0.06, 0.05,0.03,0.01,0.0, -0.02,-0.01,-0.03,-0.04, -0.05,-0.04,-0.06,-0.05, -0.07,-0.06,-0.05,-0.07, -0.06,-0.05,-0.04,-0.05],
  [0.02,0.01,0.02,0.03,0.04, 0.09,0.1,0.08,0.07, 0.06,0.04,0.02,0.01, 0.0,-0.02,-0.01,-0.03, -0.04,-0.05,-0.06,-0.05, -0.07,-0.08,-0.06,-0.07, -0.06,-0.05,-0.06,-0.04],
  [0.0,0.01,0.02,0.04,0.05, 0.08,0.1,0.09,0.07, 0.06,0.05,0.03,0.02, 0.01,0.0,-0.02,-0.01, -0.03,-0.04,-0.05,-0.07, -0.06,-0.08,-0.07,-0.06, -0.07,-0.06,-0.05,-0.06],
  [-0.01,0.01,0.0,0.02,0.03, 0.07,0.09,0.08,0.06, 0.05,0.04,0.03,0.01, 0.02,0.0,0.01,-0.01, -0.02,-0.03,-0.02,-0.04, -0.05,-0.03,-0.06,-0.05, -0.07,-0.06,-0.05,-0.07],
  [0.0,0.02,0.01,0.03,0.05, 0.06,0.08,0.07,0.08, 0.05,0.06,0.03,0.04, 0.02,0.03,0.0,0.01, -0.01,0.0,-0.02,-0.03, -0.02,-0.04,-0.03,-0.05, -0.04,-0.06,-0.05,-0.06],
  [0.01,0.0,0.02,0.02,0.04, 0.07,0.06,0.05,0.07, 0.08,0.05,0.04,0.02, 0.03,0.01,0.02,0.0, 0.01,-0.01,0.0,-0.02, -0.01,-0.03,-0.02,-0.04, -0.03,-0.05,-0.04,-0.05],
  [0.02,0.01,0.03,0.02,0.03, 0.05,0.07,0.06,0.08, 0.1,0.06,0.05,0.04, 0.02,0.05,0.03,0.06, 0.04,0.02,0.05,0.03, 0.01,0.04,0.02,0.0, 0.01,-0.01,0.0,-0.02],
  [0.01,0.02,0.02,0.03,0.04, 0.06,0.08,0.07,0.05, 0.06,0.04,0.03,0.05, 0.07,0.05,0.08,0.06, 0.05,0.08,0.06,0.04, 0.07,0.05,0.06,0.04, 0.06,0.08,0.09,0.05],
  [0.04,0.03,0.04,0.05,0.06, 0.07,0.09,0.06,0.04, 0.02,0.03,0.01,0.0, 0.02,0.04,0.02,0.0, 0.01,-0.01,0.0,-0.02, -0.01,-0.03,-0.02,-0.04, -0.02,-0.03,-0.04,-0.05],
  [0.02,0.02,0.03,0.04,0.06, 0.08,0.08,0.07,0.06, 0.05,0.04,0.04,0.03, 0.03,0.03,0.02,0.02, 0.02,0.02,0.02,0.02, 0.01,0.01,0.01,0.01, 0.01,0.01,0.01,0.01]
];

// axis tick values
var xMajor = [-2, 0, 2, 4, 6];
var xMinor = [-1, 1, 3, 5];

// ---------------- layout ----------------
var svg = d3.select("body").append("svg").attr("width", 617).attr("height", 1065);
var X0 = 124, X1 = 612, TOP = 7, PH = 99.3;
var x = d3.scaleLinear().domain([-2, 6]).range([X0, X1]);

var panels = [
  {letter: "a", groups: [bz], refs: [bzRef], domain: [-6.2, 4.8], ticks: [-4, 0, 4], fmt: "d", zero: true, noisy: false,
   title: [[["IMF B", 0], ["z", 1]], [["(nT)", 0]]]},
  {letter: "b", groups: [smu, smMid, sml], refs: [smuRef, smlRef], domain: [-500, 330], ticks: [-250, 0, 250], fmt: "d", zero: true, noisy: false,
   title: [[["SML, SMU", 0]], [["(nT)", 0]]]},
  {letter: "c", groups: [lam], refs: [lamRef], domain: [16.75, 22.4], ticks: [18, 20, 22], fmt: "d", zero: false, noisy: false,
   title: [[["\u039B\u00B0", 0]]]},
  {letter: "d", groups: [a1], refs: [a1Ref], domain: [0.85, 2.97], ticks: [1.6, 2.2, 2.8], fmt: ".1f", zero: false, noisy: false,
   title: [[["\u03B1", 0], ["1", 1]]]},
  {letter: "e", groups: [b1], refs: [b1Ref], domain: [0.65, 2.7], ticks: [1.4, 2.0, 2.6], fmt: ".1f", zero: false, noisy: false,
   title: [[["\u03B2", 0], ["1", 1]]]},
  {letter: "f", groups: [b3], refs: [b3Ref], domain: [-0.34, 0.545], ticks: [-0.1, 0.1, 0.3, 0.5], fmt: ".1f", zero: true, noisy: true,
   title: [[["\u03B2", 0], ["3", 1]]]},
  {letter: "g", groups: [b4], refs: [b4Ref], domain: [-0.43, 0.45], ticks: [-0.2, 0, 0.2, 0.4], fmt: ".1f", zero: true, noisy: true,
   title: [[["\u03B2", 0], ["4", 1]]]},
  {letter: "h", groups: [b5], refs: [b5Ref], domain: [-0.22, 0.48], ticks: [0, 0.2, 0.4], fmt: ".1f", zero: true, noisy: true,
   title: [[["\u03B2", 0], ["5", 1]]]},
  {letter: "i", groups: [b6], refs: [b6Ref], domain: [-0.2, 0.38], ticks: [-0.1, 0.1, 0.3], fmt: ".1f", zero: true, noisy: true,
   title: [[["\u03B2", 0], ["6", 1]]]},
  {letter: "j", groups: [b7], refs: [b7Ref], domain: [-0.33, 0.395], ticks: [-0.3, -0.1, 0.1, 0.3], fmt: ".1f", zero: true, noisy: true,
   title: [[["\u03B2", 0], ["7", 1]]]}
];

panels.forEach(function(p, i) {
  var top = TOP + i * PH, bot = top + PH;
  var y = d3.scaleLinear().domain(p.domain).range([bot, top]);
  var g = svg.append("g");

  svg.append("clipPath").attr("id", "clip" + i)
    .append("rect").attr("x", X0).attr("y", top).attr("width", X1 - X0).attr("height", PH);
  var plot = g.append("g").attr("clip-path", "url(#clip" + i + ")");

  // reference dotted lines
  plot.append("line")
      .attr("x1", x(0)).attr("x2", x(0)).attr("y1", top).attr("y2", bot)
      .attr("stroke", "#555").attr("stroke-width", 1).attr("stroke-dasharray", "1,3");
  if (p.zero) {
    plot.append("line")
        .attr("x1", X0).attr("x2", X1).attr("y1", y(0)).attr("y2", y(0))
        .attr("stroke", "#333").attr("stroke-width", 1).attr("stroke-dasharray", "1,3");
  }

  var line = d3.line()
      .x(function(d, j) { return x(T[j]); })
      .y(function(d) { return y(d); })
      .curve(p.noisy ? d3.curveCatmullRom.alpha(0.5) : d3.curveMonotoneX);

  p.groups.forEach(function(grp) {
    plot.selectAll(null)
        .data(grp)
      .enter().append("path")
        .attr("d", line)
        .attr("fill", "none")
        .attr("stroke", function(d, k) { return colors[k]; })
        .attr("stroke-width", 1.5)
        .attr("stroke-linejoin", "round");
  });
  p.refs.forEach(function(r) {
    plot.append("path").datum(r)
        .attr("d", line)
        .attr("fill", "none")
        .attr("stroke", "#000")
        .attr("stroke-width", 1.8)
        .attr("stroke-dasharray", "8,6");
  });

  // frame
  g.append("rect").attr("x", X0).attr("y", top).attr("width", X1 - X0).attr("height", PH)
      .attr("fill", "none").attr("stroke", "#000").attr("stroke-width", 1.4);

  // y axes (ticks inward)
  g.append("g").attr("transform", "translate(" + X0 + ",0)")
      .call(d3.axisLeft(y).tickValues(p.ticks).tickSize(-8).tickPadding(7).tickFormat(d3.format(p.fmt)));
  g.append("g").attr("transform", "translate(" + X1 + ",0)")
      .call(d3.axisRight(y).tickValues(p.ticks).tickSize(-8).tickFormat(""));

  // x axes (ticks inward, top and bottom)
  var isLast = i === panels.length - 1;
  g.append("g").attr("transform", "translate(0," + bot + ")")
      .call(d3.axisBottom(x).tickValues(xMajor).tickSize(-8).tickPadding(16)
            .tickFormat(isLast ? d3.format("d") : ""));
  g.append("g").attr("transform", "translate(0," + bot + ")")
      .call(d3.axisBottom(x).tickValues(xMinor).tickSize(-5).tickFormat(""));
  g.append("g").attr("transform", "translate(0," + top + ")")
      .call(d3.axisTop(x).tickValues(xMajor).tickSize(-8).tickFormat(""));
  g.append("g").attr("transform", "translate(0," + top + ")")
      .call(d3.axisTop(x).tickValues(xMinor).tickSize(-5).tickFormat(""));

  g.selectAll(".domain").remove();
  g.selectAll(".tick line").attr("stroke", "#000").attr("stroke-width", 1.2);
  g.selectAll(".tick text").attr("font-family", "Liberation Sans, Arial, sans-serif")
      .attr("font-size", 19).attr("fill", "#000");

  // y title, rotated
  var n = p.title.length;
  var tg = g.append("g")
      .attr("transform", "translate(" + (n > 1 ? 56 : 69) + "," + (top + PH / 2) + ") rotate(-90)");
  p.title.forEach(function(parts, li) {
    var t = tg.append("text").attr("text-anchor", "middle").attr("y", li * 16)
        .attr("font-size", n > 1 ? 17 : 21);
    parts.forEach(function(pt) {
      if (pt[1]) {
        t.append("tspan").attr("dy", "0.3em").attr("font-size", "0.65em").text(pt[0]);
      } else {
        t.append("tspan").text(pt[0]);
      }
    });
  });

  // panel letter
  g.append("text")
      .attr("x", 578).attr("y", top + 39)
      .attr("text-anchor", "middle")
      .style("font-family", "Liberation Serif, serif")
      .style("font-style", "italic")
      .style("font-size", "30px")
      .text(p.letter);
});

svg.append("text")
    .attr("x", (X0 + X1) / 2).attr("y", 1059)
    .attr("text-anchor", "middle")
    .attr("font-size", 19)
    .attr("letter-spacing", 1)
    .text("Epoch time (h)");
</script>
</body>
</html>
